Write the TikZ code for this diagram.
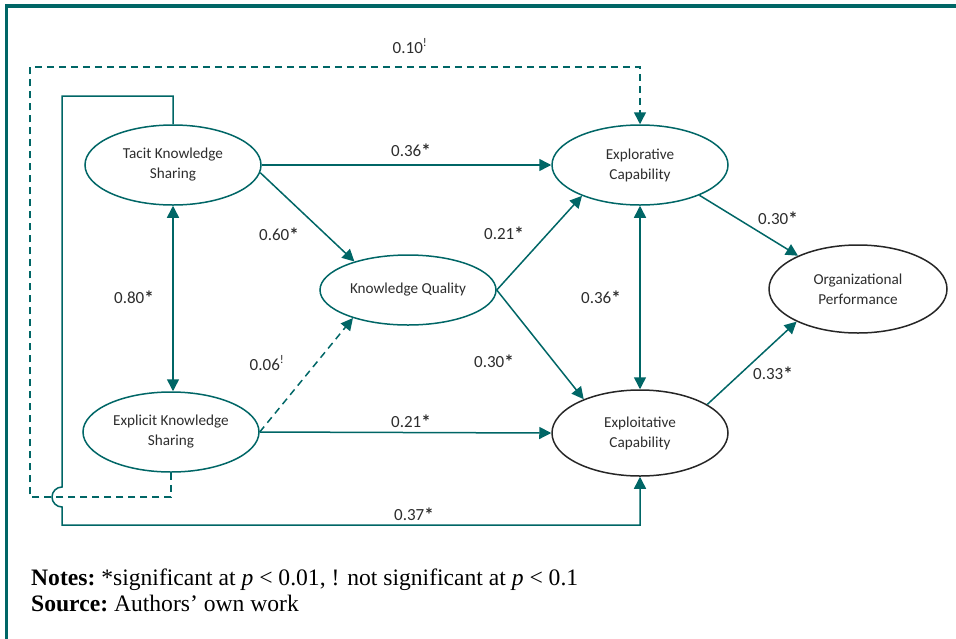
\documentclass[tikz,border=0pt]{standalone}
\usepackage{fontspec}
\setmainfont{Liberation Serif}
\newfontfamily\calib{Carlito}
\usetikzlibrary{shapes.geometric,arrows.meta}
\definecolor{tealc}{RGB}{0,102,102}
\definecolor{txt}{RGB}{45,45,45}
\newcommand{\sigstar}{\raisebox{-1.5pt}{\fontsize{19}{19}\selectfont\bfseries *}}
\begin{document}
\begin{tikzpicture}[x=1pt,y=-1pt,
  cons/.style={ellipse, draw=tealc, line width=1.5pt, minimum width=176pt, minimum height=80pt, inner sep=0pt, font=\calib\fontsize{15.2}{20}\selectfont, text=txt, align=center},
  outc/.style={cons, draw=black!85},
  conn/.style={draw=tealc, line width=1.5pt, -{Triangle[length=12pt,width=12pt]}},
  both/.style={draw=tealc, line width=1.5pt, {Triangle[length=12pt,width=12pt]}-{Triangle[length=12pt,width=12pt]}},
  dsh/.style={dash pattern=on 7pt off 5pt},
  lbl/.style={font=\calib\fontsize{17}{18}\selectfont, text=txt, inner sep=1pt},
  frame/.style={draw=tealc, line width=3.5pt}
]
\useasboundingbox (0,0) rectangle (956,638);
\draw[frame] (6.5,640) -- (6.5,6) -- (958,6);

% nodes
\node[cons] (tacit) at (173,165) {Tacit Knowledge\\Sharing};
\node[cons] (explicit) at (171,432) {Explicit Knowledge\\Sharing};
\node[cons, minimum height=70pt] (kq) at (408,290) {Knowledge Quality};
\node[cons] (explor) at (640,165) {Explorative\\Capability};
\node[outc, minimum height=86pt] (exploit) at (640,433) {Exploitative\\Capability};
\node[outc, minimum width=178pt, minimum height=88pt] (perf) at (858,289) {Organizational\\Performance};

% helper coordinates
\coordinate (d1) at (30,497);
\coordinate (d2) at (30,67);
\coordinate (s1) at (173,96);
\coordinate (s2) at (62,96);
\coordinate (s3) at (62,487);
\coordinate (s4) at (62,525);

% connectors
\draw[conn] (tacit.east) -- (explor.west);
\draw[conn] (tacit.-5) -- (kq.152);
\draw[both] (tacit.south) -- (tacit.south |- explicit.north);
\draw[conn, dsh] (explicit.east) -- (kq.207);
\draw[conn] (explicit.east) -- (exploit.west);
\draw[conn] (kq.east) -- (explor.208);
\draw[conn] (kq.east) -- (exploit.149);
\draw[both] (explor.south) -- (exploit.north);
\draw[conn] (explor.-27) -- (perf.151);
\draw[conn] (exploit.23) -- (perf.208);
\draw[conn, dsh] (explicit.south) |- (d1) -- (d2) -| (explor.north);
\draw[conn] (tacit.north) -- (s1) -- (s2) -- (s3) arc[start angle=90, end angle=270, radius=10pt] -- (s4) -| (exploit.south);

% labels
\node[lbl] (l010) at (410,46) {0.10\textsuperscript{!}};
\node[lbl] (l036a) at (411,151) {0.36\sigstar};
\node[lbl] (l060) at (279,235) {0.60\sigstar};
\node[lbl] (l080) at (134,298) {0.80\sigstar};
\node[lbl] (l006) at (267,363) {0.06\textsuperscript{!}};
\node[lbl] (l021a) at (411,422) {0.21\sigstar};
\node[lbl] (l021b) at (504,234) {0.21\sigstar};
\node[lbl] (l030a) at (494,362) {0.30\sigstar};
\node[lbl] (l036b) at (601,298) {0.36\sigstar};
\node[lbl, fill=white] (l030b) at (778,219) {0.30\sigstar};
\node[lbl] (l033) at (773,374) {0.33\sigstar};
\node[lbl] (l037) at (414,515) {0.37\sigstar};

% notes
\node[anchor=base west, inner sep=0pt, font=\fontsize{23.6}{27}\selectfont] (notes) at (31,585) {\textbf{Notes:}~*significant at \textit{p} < 0.01, ! not significant at \textit{p} < 0.1};
\node[anchor=base west, inner sep=0pt, font=\fontsize{23.6}{27}\selectfont] (source) at (31,611) {\textbf{Source:}~Authors’ own work};
\end{tikzpicture}
\end{document}
